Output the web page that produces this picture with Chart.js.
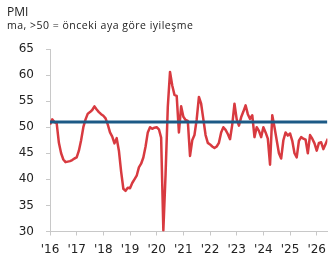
<!DOCTYPE html>
<html>
<head>
<meta charset="utf-8">
<script src="https://cdn.jsdelivr.net/npm/chart.js@4"></script>
<style>
  html, body { margin: 0; padding: 0; background: #fff; }
  #wrap { position: relative; width: 333px; height: 264px; }
  #title { position: absolute; left: 7px; top: 3px; font-family: "Open Sans", sans-serif; font-size: 12px; color: #222; }
  #subtitle { position: absolute; left: 7px; top: 18px; font-family: "Open Sans", sans-serif; font-size: 10.5px; letter-spacing: 0.5px; color: #222; white-space: nowrap; }
  canvas { position: absolute; left: 0; top: 0; }
</style>
</head>
<body>
<div id="wrap">
  <canvas id="c" width="333" height="264"></canvas>
  <div id="title">PMI</div>
  <div id="subtitle">ma, &gt;50 = önceki aya göre iyileşme</div>
</div>
<script>
// Monthly PMI, Jan 2016 onward
const pmi = [
  50.5, 51.5, 51.0, 50.8, 47.0, 45.0, 43.8, 43.3, 43.4, 43.5, 43.7, 44.0,   // 2016
  44.2, 45.5, 47.5, 50.0, 51.5, 52.6, 52.9, 53.3, 54.0, 53.4, 52.9, 52.5,   // 2017
  52.2, 51.7, 50.5, 49.0, 48.2, 46.9, 47.9, 45.5, 41.5, 38.2, 37.8, 38.4,   // 2018
  38.3, 39.3, 40.0, 40.7, 42.3, 43.0, 44.2, 46.3, 49.0, 50.0, 49.7, 49.9,   // 2019
  50.0, 49.6, 48.0, 30.2, 41.0, 53.9, 60.6, 58.0, 56.2, 56.0, 49.0, 54.0,   // 2020
  52.0, 51.4, 51.2, 44.5, 47.5, 48.5, 51.5, 55.8, 54.5, 51.5, 48.5, 47.0,   // 2021
  46.7, 46.3, 46.0, 46.3, 47.0, 49.0, 50.0, 49.5, 48.7, 47.7, 50.5, 54.5,   // 2022
  51.5, 50.3, 51.9, 53.0, 54.2, 52.5, 51.6, 52.3, 48.1, 50.0, 49.3, 48.1,   // 2023
  50.0, 49.0, 47.8, 42.8, 52.3, 50.0, 47.5, 45.0, 44.0, 47.5, 49.0, 48.4,   // 2024
  48.8, 47.4, 45.0, 44.2, 47.4, 48.1, 47.8, 47.6, 45.0, 48.5, 47.8, 46.9,   // 2025
  45.5, 47.0, 47.1, 45.8, 46.8, 47.8                                        // 2026
];
const yearLabels = ["'16", "'17", "'18", "'19", "'20", "'21", "'22", "'23", "'24", "'25", "'26"];
const yTicks = [30, 35, 40, 45, 50, 55, 60, 65];
const threshold = 51;

const pmiPoints = pmi.map((v, i) => ({ x: i, y: v }));
const lastX = 124.8;
const thresholdPoints = [{ x: 0, y: threshold }, { x: lastX, y: threshold }];

new Chart(document.getElementById('c'), {
  type: 'line',
  data: {
    datasets: [
      {
        data: pmiPoints,
        borderColor: '#d83a40',
        borderWidth: 2.5,
        pointRadius: 0,
        tension: 0,
        borderJoinStyle: 'round',
        order: 2
      },
      {
        data: thresholdPoints,
        borderColor: '#1c5a86',
        borderWidth: 3,
        pointRadius: 0,
        order: 1
      }
    ]
  },
  options: {
    animation: false,
    responsive: false,
    events: [],
    layout: { padding: { top: 49, right: 0, left: 0, bottom: 0 } },
    plugins: { legend: { display: false }, tooltip: { enabled: false } },
    scales: {
      x: {
        type: 'linear',
        min: 0,
        max: lastX,
        border: { display: true, color: '#c8c8c8', width: 1 },
        grid: { display: true, drawOnChartArea: false, drawTicks: true, tickLength: 4, color: '#c8c8c8' },
        ticks: {
          stepSize: 12,
          includeBounds: false,
          autoSkip: false,
          maxRotation: 0,
          padding: 7,
          color: '#222',
          font: { family: 'DejaVu Sans', size: 12 },
          callback: (v) => (v % 12 === 0 ? yearLabels[v / 12] : '')
        },
        afterFit: (s) => { s.height = 32.5; }
      },
      y: {
        min: 30,
        max: 65,
        border: { display: true, color: '#c8c8c8', width: 1 },
        grid: { display: true, drawOnChartArea: false, drawTicks: true, tickLength: 4, color: '#c8c8c8' },
        afterBuildTicks: (s) => { s.ticks = yTicks.map(v => ({ value: v })); },
        ticks: {
          padding: 12,
          color: '#222',
          font: { family: 'DejaVu Sans', size: 12 }
        },
        afterFit: (s) => { s.width = 50; }
      }
    }
  }
});
</script>
</body>
</html>
